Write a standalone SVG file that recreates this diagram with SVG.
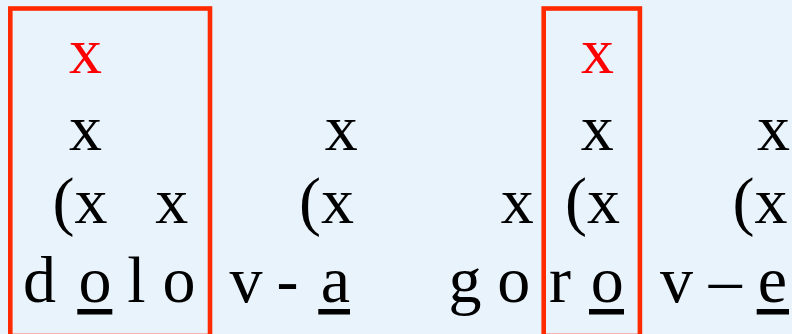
<svg xmlns="http://www.w3.org/2000/svg" width="792" height="334" viewBox="0 0 792 334">
<style>
text{font-family:"Liberation Serif","Times New Roman",serif;font-size:66px;fill:#000;text-anchor:middle}
text.px{text-anchor:start}
.red{fill:#ff0000}
.box{fill:none;stroke:#ff2a00;stroke-width:4.6}
.ul{fill:#000}
</style>
<rect width="792" height="334" fill="#e9f3fc"/>
<g id="boxes">
<rect class="box" x="10.3" y="8.5" width="199.7" height="327.5"/>
<rect class="box" x="543.7" y="8.5" width="96.2" height="327.5"/>
</g>
<g id="row1">
<text class="red" x="85.5" y="73">x</text>
<text class="red" x="597.5" y="73">x</text>
</g>
<g id="row2">
<text x="85.5" y="150">x</text>
<text x="341.3" y="150">x</text>
<text x="597.2" y="150">x</text>
<text x="773.6" y="150">x</text>
</g>
<g id="row3">
<text class="px" x="52.5" y="223">(x</text>
<text x="171.7" y="223">x</text>
<text class="px" x="299" y="223">(x</text>
<text x="517.2" y="223">x</text>
<text class="px" x="565" y="223">(x</text>
<text class="px" x="732.5" y="223">(x</text>
</g>
<g id="row4">
<text x="39.5" y="302">d</text>
<text x="95" y="302">o</text>
<text x="136.5" y="302">l</text>
<text x="179" y="302">o</text>
<text x="246" y="302">v</text>
<text x="287.5" y="302">-</text>
<text x="335.5" y="302">a</text>
<text x="465" y="302">g</text>
<text x="513.7" y="302">o</text>
<text x="560" y="302">r</text>
<text x="607.2" y="302">o</text>
<text x="676.5" y="302">v</text>
<text x="725.3" y="302">–</text>
<text x="772.3" y="302">e</text>
</g>
<g id="underlines">
<rect class="ul" x="77.3" y="309" width="35" height="5.5"/>
<rect class="ul" x="318.3" y="309" width="31.7" height="5.5"/>
<rect class="ul" x="589" y="309" width="35" height="5.5"/>
<rect class="ul" x="756.7" y="309" width="32.3" height="5.5"/>
</g>
</svg>
